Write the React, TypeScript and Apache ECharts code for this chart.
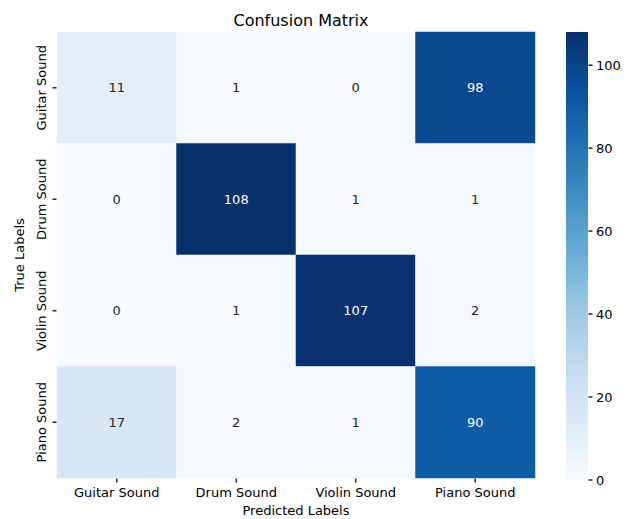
import React, { useEffect, useRef } from "react";
import * as echarts from "echarts";

const predictedLabels = ["Guitar Sound", "Drum Sound", "Violin Sound", "Piano Sound"];
const trueLabels = ["Guitar Sound", "Drum Sound", "Violin Sound", "Piano Sound"];
const matrix: number[][] = [
  [11, 1, 0, 98],
  [0, 108, 1, 1],
  [0, 1, 107, 2],
  [17, 2, 1, 90],
];
const colorbarTicks = [0, 20, 40, 60, 80, 100];
const colorbarInterval = 20;
const vMin = 0;
const vMax = 108;

const blues = ["#f7fbff", "#deebf7", "#c6dbef", "#9ecae1", "#6baed6", "#4292c6", "#2171b5", "#08519c", "#08306b"];
const FONT = "DejaVu Sans";

const GRID_W = 478;
const GRID_H = 446;

export default function App() {
  const ref = useRef<HTMLDivElement>(null);
  useEffect(() => {
    if (!ref.current) return;
    const chart = echarts.init(ref.current, null, { renderer: "svg" });
    const data: any[] = [];
    matrix.forEach((row, r) => {
      row.forEach((v, c) => {
        data.push({
          value: [c, r, v],
          label: { color: v > 60 ? "#ffffff" : "#262626" },
        });
      });
    });
    const gradient = new echarts.graphic.LinearGradient(
      0, 1, 0, 0,
      blues.map((c, i) => ({ offset: i / (blues.length - 1), color: c }))
    );
    const cellH = GRID_H / trueLabels.length;
    const cellW = GRID_W / predictedLabels.length;
    chart.setOption({
      animation: false,
      backgroundColor: "#ffffff",
      textStyle: { fontFamily: FONT },
      title: {
        text: "Confusion Matrix",
        left: 296,
        top: 7,
        textAlign: "center",
        textStyle: { fontFamily: FONT, fontSize: 16, fontWeight: "normal", color: "#000" },
      },
      grid: [
        { left: 57, top: 32, width: GRID_W, height: GRID_H, outerBoundsMode: "none", containLabel: false },
        {
          left: 566, top: 32, width: 22, height: 448, outerBoundsMode: "none", containLabel: false,
          show: true, backgroundColor: gradient, borderWidth: 0, z: 0,
        },
      ],
      xAxis: [
        {
          type: "category",
          gridIndex: 0,
          data: predictedLabels,
          name: "Predicted Labels",
          nameLocation: "middle",
          nameGap: 26,
          nameTextStyle: { fontFamily: FONT, fontSize: 13, color: "#000" },
          axisLine: { show: false },
          axisTick: { show: false },
          axisLabel: { fontFamily: FONT, fontSize: 13, color: "#000", margin: 8, interval: 0 },
          splitLine: { show: false },
        },
        {
          type: "value",
          gridIndex: 1,
          show: false,
          min: 0,
          max: 1,
        },
      ],
      yAxis: [
        {
          type: "category",
          gridIndex: 0,
          data: trueLabels,
          inverse: true,
          name: "True Labels",
          nameLocation: "middle",
          nameGap: 31,
          nameRotate: 90,
          nameTextStyle: { fontFamily: FONT, fontSize: 13, color: "#000" },
          axisLine: { show: false },
          axisTick: { show: false },
          axisLabel: { fontFamily: FONT, fontSize: 13, color: "#000", rotate: 90, margin: 9, interval: 0, hideOverlap: false },
          splitLine: { show: false },
        },
        {
          type: "value",
          gridIndex: 1,
          position: "right",
          min: vMin,
          max: vMax,
          interval: colorbarInterval,
          z: 10,
          axisLine: { show: false },
          axisTick: { show: false },
          axisLabel: {
            fontFamily: FONT,
            fontSize: 13,
            color: "#000",
            margin: 8,
            showMaxLabel: false,
            formatter: (v: number) => (colorbarTicks.includes(v) ? String(v) : ""),
          },
          splitLine: { show: false },
        },
      ],
      visualMap: [
        {
          type: "continuous",
          min: vMin,
          max: vMax,
          seriesIndex: 0,
          show: false,
          inRange: { color: blues },
        },
      ],
      series: [
        {
          type: "heatmap",
          xAxisIndex: 0,
          yAxisIndex: 0,
          data,
          label: { show: true, fontFamily: FONT, fontSize: 13 },
          itemStyle: { borderWidth: 0 },
          emphasis: { disabled: true },
        },
        {
          // x-axis tick marks below the matrix
          type: "scatter",
          xAxisIndex: 0,
          yAxisIndex: 0,
          clip: false,
          silent: true,
          symbol: "rect",
          symbolSize: [1.6, 4],
          symbolOffset: [0, cellH / 2 + 2.5],
          itemStyle: { color: "#000" },
          data: predictedLabels.map((_, c) => [c, trueLabels.length - 1]),
          z: 5,
        },
        {
          // y-axis tick marks left of the matrix
          type: "scatter",
          xAxisIndex: 0,
          yAxisIndex: 0,
          clip: false,
          silent: true,
          symbol: "rect",
          symbolSize: [4, 1.6],
          symbolOffset: [-(cellW / 2 + 2.5), 0],
          itemStyle: { color: "#000" },
          data: trueLabels.map((_, r) => [0, r]),
          z: 5,
        },
        {
          // colorbar tick marks
          type: "scatter",
          xAxisIndex: 1,
          yAxisIndex: 1,
          clip: false,
          silent: true,
          symbol: "rect",
          symbolSize: [4, 1.6],
          symbolOffset: [2.5, 0],
          itemStyle: { color: "#000" },
          data: colorbarTicks.map((v) => [1, v]),
          z: 5,
        },
      ],
    });
    return () => chart.dispose();
  }, []);
  return <div ref={ref} style={{ width: 637, height: 519, position: "absolute", left: 0, top: 0 }} />;
}
